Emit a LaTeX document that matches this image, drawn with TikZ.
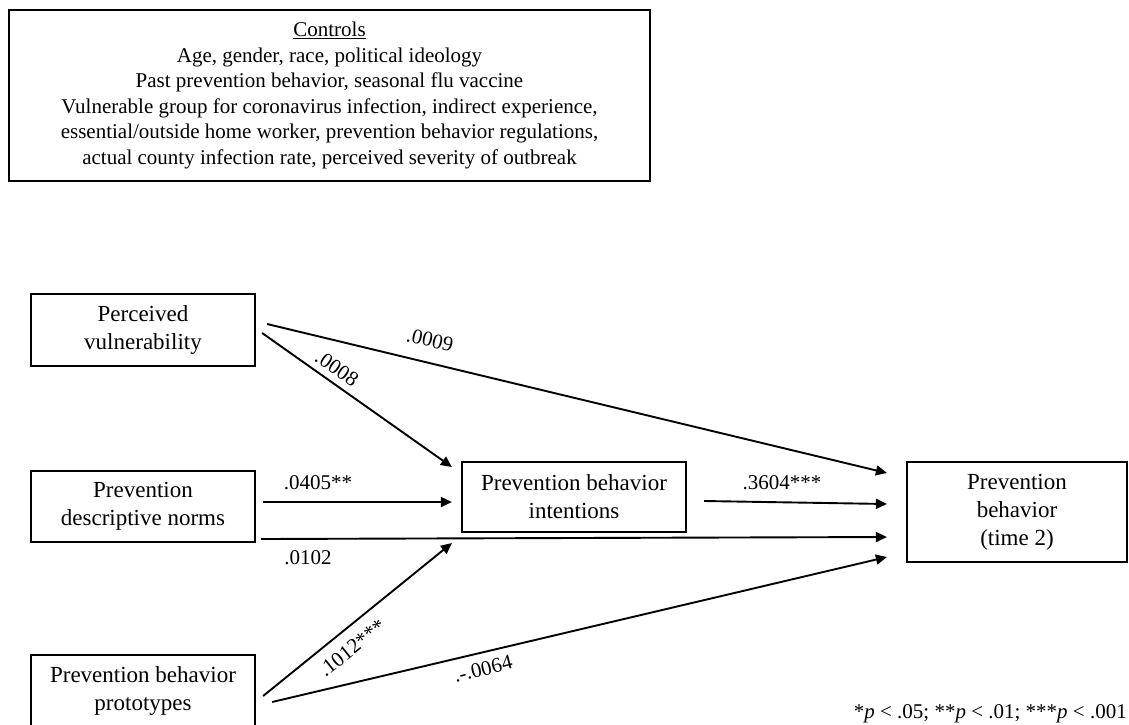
\documentclass[tikz,border=0pt]{standalone}
\usepackage{fontspec}
\setmainfont{Liberation Serif}
\usetikzlibrary{arrows.meta,calc}
\begin{document}
\begin{tikzpicture}[x=1pt,y=-1pt,
  box/.style={draw=black,line width=2.2pt,inner sep=0pt,align=center,
    font=\fontsize{23}{28}\selectfont},
  arr/.style={line width=1.9pt,-{Triangle[length=11pt,width=10pt]}},
  lbl/.style={inner sep=0pt,font=\fontsize{21}{25}\selectfont}]
\useasboundingbox (0,0) rectangle (1129,724);
\clip (0,0) rectangle (1129,724);
% controls
\node[box,minimum width=641pt,minimum height=171pt,font=\fontsize{21}{25.6}\selectfont] (ctl) at (329.5,95.5)
  {\underline{Controls}\\Age, gender, race, political ideology\\Past prevention behavior, seasonal flu vaccine\\
   Vulnerable group for coronavirus infection, indirect experience,\\
   essential/outside home worker, prevention behavior regulations,\\
   actual county infection rate, perceived severity of outbreak};
% boxes
\node[box,minimum width=224pt,minimum height=72pt] (pv) at (143,330) {Perceived\\vulnerability};
\node[box,minimum width=224pt,minimum height=71pt] (dn) at (143,506.5) {Prevention\\descriptive norms};
\node[box,minimum width=224pt,minimum height=71pt] (pp) at (143,690.5) {Prevention behavior\\prototypes};
\node[box,minimum width=224pt,minimum height=70pt] (int) at (574,497) {Prevention behavior\\intentions};
\node[box,minimum width=220pt,minimum height=100pt] (out) at (1017,512) {Prevention\\behavior\\(time 2)};
% connectors
\draw[arr] ($(pv.east)+(11,-6)$) -- ($(out.west)+(-19,-39)$);
\draw[arr] ($(pv.east)+(6,3)$) -- ($(int.west)+(-9,-30)$);
\draw[arr] ($(dn.east)+(7,-4.5)$) -- ($(int.west)+(-9,5)$);
\draw[arr] ($(dn.east)+(5,32.5)$) -- ($(out.west)+(-19,25)$);
\draw[arr] ($(pp.east)+(7,5.5)$) -- ($(int.west)+(-9,46)$);
\draw[arr] ($(pp.east)+(16,11.5)$) -- ($(out.west)+(-19,45)$);
\draw[arr] ($(int.east)+(17,4)$) -- ($(out.west)+(-19,-8)$);
% labels
\node[lbl,rotate=-13.5] (l1) at (430,340) {.0009};
\node[lbl,rotate=-35] (l2) at (337,368) {.0008};
\node[lbl] (l3) at (318,483) {.0405**};
\node[lbl] (l4) at (308,558) {.0102};
\node[lbl,rotate=38.7] (l5) at (352,648) {.1012***};
\node[lbl,rotate=14] (l6) at (483,669) {.-.0064};
\node[lbl] (l7) at (782,483) {.3604***};
\node[lbl,anchor=base east] (fn) at (1127,718) {*\textit{p} < .05; **\textit{p} < .01; ***\textit{p} < .001};
\end{tikzpicture}
\end{document}
